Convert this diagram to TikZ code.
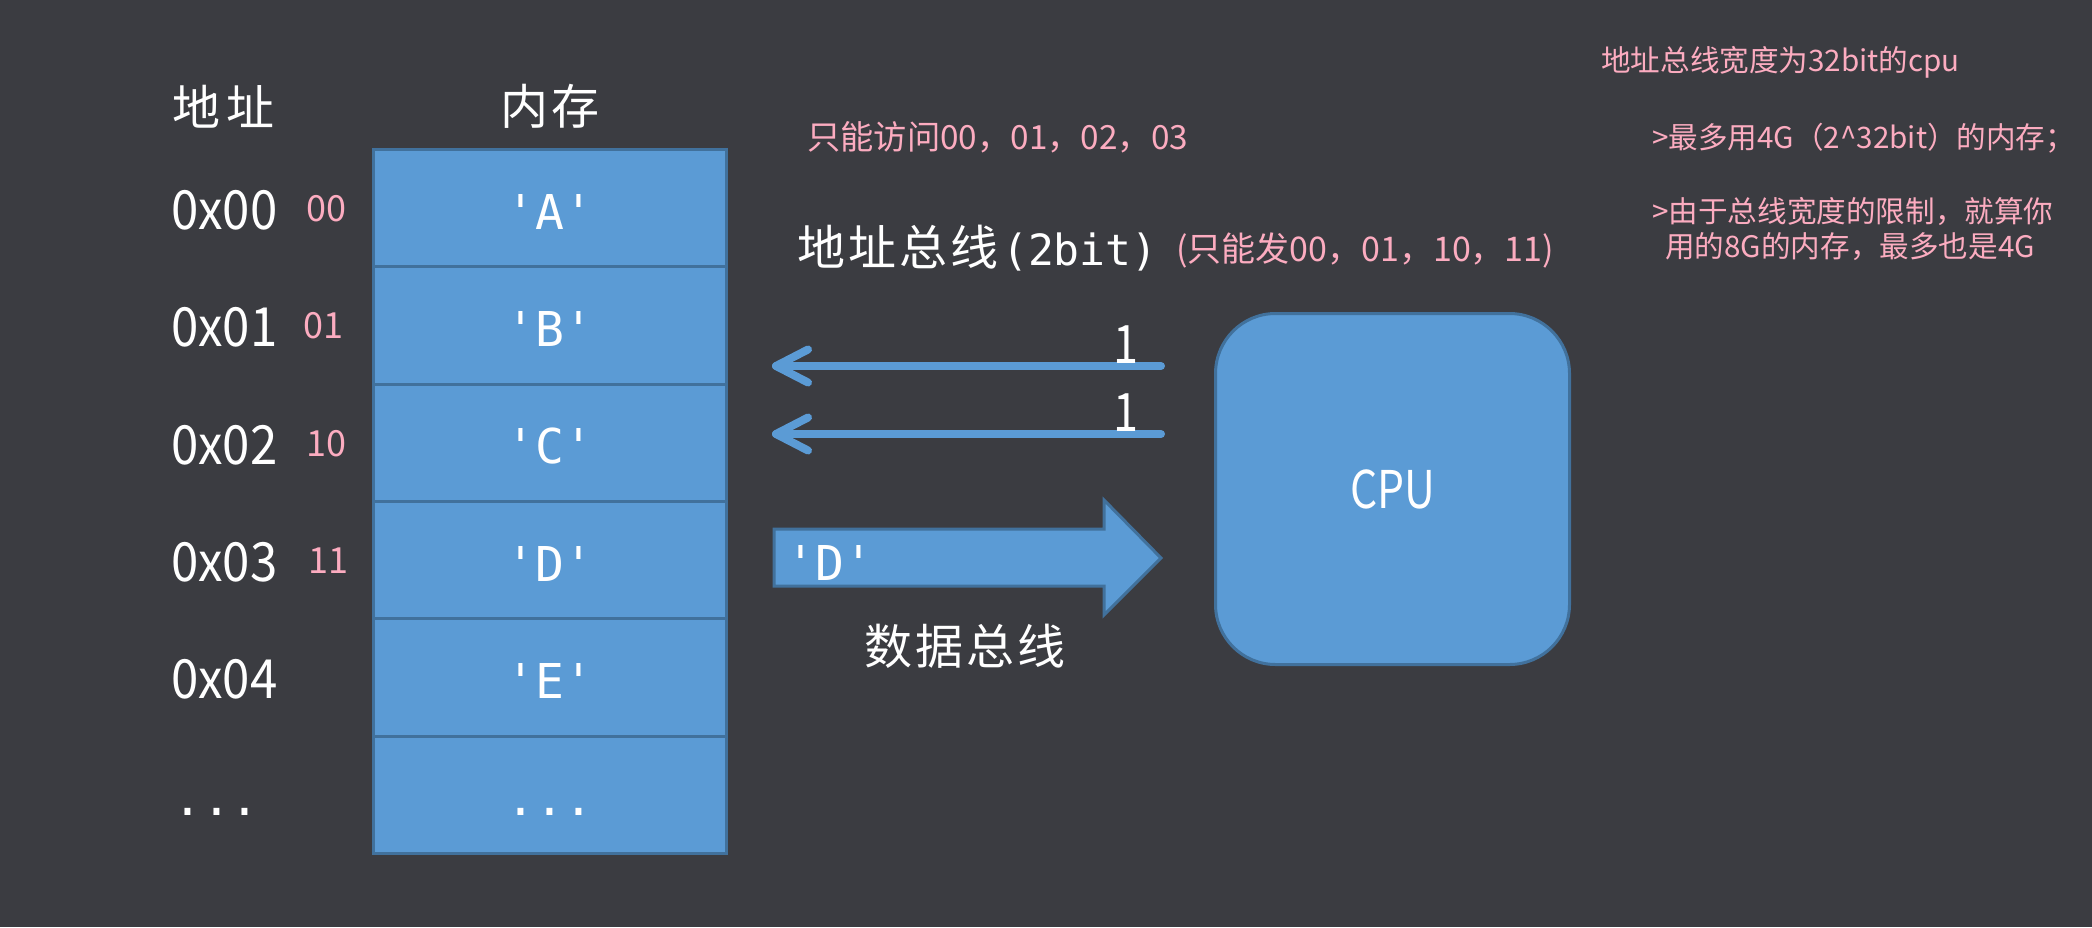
\documentclass[tikz,border=0pt]{standalone}
\usepackage{fontspec}
\setmainfont{Noto Sans CJK SC}
\setmonofont{DejaVu Sans Mono}
\usepackage{graphicx}
\usetikzlibrary{calc}
\definecolor{bg}{RGB}{59,60,65}
\definecolor{cellfill}{RGB}{91,155,213}
\definecolor{celldraw}{RGB}{65,113,156}
\definecolor{pinkt}{RGB}{252,172,192}
\newcommand{\myfs}[1]{\fontsize{#1}{#1}\selectfont}
\newcommand{\narrow}[1]{\scalebox{0.91}[1]{#1}}
\begin{document}
\begin{tikzpicture}[x=1pt,y=-1pt,
  cell/.style={draw=celldraw, fill=cellfill, line width=3pt, minimum width=353pt, minimum height=117.3pt,
    inner sep=0pt, anchor=north west, text=white, font=\ttfamily\myfs{48}, text height=42pt, text depth=0pt},
  addr/.style={text=white, font=\myfs{54}, anchor=base west, inner sep=0pt},
  pinknum/.style={text=pinkt, font=\myfs{36}, anchor=base, inner sep=0pt},
  pinktxt/.style={text=pinkt, font=\myfs{#1}, anchor=base west, inner sep=0pt},
  whitecjk/.style={text=white, font=\myfs{48}, anchor=base, inner sep=0pt},
  bus/.style={draw=cellfill, line width=8pt, line cap=round, line join=round},
  bitlbl/.style={text=white, font=\myfs{53}, anchor=base, inner sep=0pt},
]
\fill[bg] (0,0) rectangle (2092,927);
\useasboundingbox (0,0) rectangle (2092,927);

% headers
\node[whitecjk] (hAddr) at (223,125) {地\hspace{6pt}址};
\node[whitecjk] (hMem) at (550,124) {内\hspace{3pt}存};

% memory cells
\node[cell] (c1) at (372,148) {'A'};
\node[cell] (c2) at (372,265.3) {'B'};
\node[cell] (c3) at (372,382.6) {'C'};
\node[cell] (c4) at (372,499.9) {'D'};
\node[cell] (c5) at (372,617.2) {'E'};
\node[cell] (c6) at (372,734.5) {...};

% addresses
\node[addr] (a1) at (171,229.6) {\narrow{0x00}};
\node[addr] (a2) at (171,346.9) {\narrow{0x01}};
\node[addr] (a3) at (171,464.2) {\narrow{0x02}};
\node[addr] (a4) at (171,581.5) {\narrow{0x03}};
\node[addr] (a5) at (171,698.8) {\narrow{0x04}};
\node[text=white, font=\ttfamily\myfs{48}, anchor=base, inner sep=0pt] (a6) at (216.5,815) {...};

% binary
\node[pinknum] (p1) at (326,221.6) {00};
\node[pinknum] (p2) at (323,338.9) {01};
\node[pinknum] (p3) at (326,456.2) {10};
\node[pinknum] (p4) at (328,573.5) {11};

% top middle texts
\node[pinktxt=33.3] (only) at (807,149) {只能访问00，01，02，03};
\node[text=white, anchor=base west, inner sep=0pt] (abus) at (797,265)
  {\myfs{48}地\hspace{3pt}址\hspace{3pt}总\hspace{3pt}线\hspace{4pt}{\ttfamily\myfs{43}(2bit)}};
\node[pinktxt=34] (send) at (1176,261) {(只能发00，01，10，11)};

% right notes
\node[pinktxt=29.6] (n1) at (1601,71.4) {地址总线宽度为32bit的cpu};
\node[pinktxt=29.6] (n2) at (1652,148.4) {>最多用4G（2\^{}32bit）的内存；};
\node[pinktxt=29.6] (n3) at (1652,222.4) {>由于总线宽度的限制，就算你};
\node[pinktxt=29.6] (n4) at (1665,257) {用的8G的内存，最多也是4G};

% CPU
\node[draw=celldraw, fill=cellfill, line width=3pt, rounded corners=60pt, minimum width=354pt, minimum height=351pt,
  anchor=north west, inner sep=0pt, text=white, font=\myfs{52}] (cpu) at (1214,312) {\scalebox{0.82}[1]{CPU}};

% address bus lines
\coordinate (b1s) at (1161,366);
\coordinate (b1e) at (776,366);
\coordinate (b2s) at (1161,434);
\coordinate (b2e) at (776,434);
\draw[bus] (b1s) -- (b1e);
\draw[bus] ($(b1e)+(32,-16.5)$) -- (b1e) -- ($(b1e)+(32,16.5)$);
\draw[bus] (b2s) -- (b2e);
\draw[bus] ($(b2e)+(32,-16.5)$) -- (b2e) -- ($(b2e)+(32,16.5)$);
\node[bitlbl] (bit1) at (1126,363) {\scalebox{0.85}[1]{1}};
\node[bitlbl] (bit2) at (1126,431) {\scalebox{0.85}[1]{1}};

% data bus block arrow
\filldraw[fill=cellfill, draw=celldraw, line width=3pt, line join=miter]
  (774,529) -- (1104,529) -- (1104,500) -- (1161,558) -- (1104,615) -- (1104,586) -- (774,586) -- cycle;
\node[text=white, font=\ttfamily\myfs{48}, anchor=base, inner sep=0pt] (dval) at (830,580) {'D'};
\node[whitecjk] (dbus) at (965,664) {数\hspace{3pt}据\hspace{3pt}总\hspace{3pt}线};
\end{tikzpicture}
\end{document}
